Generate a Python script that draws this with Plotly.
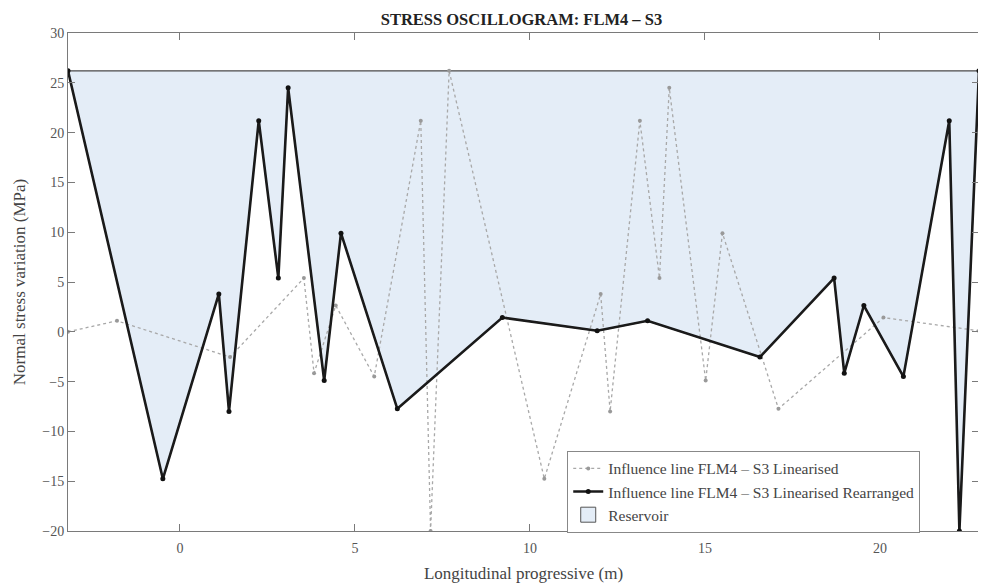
import plotly.graph_objects as go

# Linearised influence line (grey dotted)
lin_x = [-3.2, -1.8, 1.43, 3.54, 3.83, 4.45, 5.55, 6.88, 7.16, 7.69, 10.41,
         12.02, 12.29, 13.14, 13.7, 13.98, 15.02, 15.5, 17.1, 20.1, 22.83]
lin_y = [0.0, 1.1, -2.54, 5.39, -4.15, 2.64, -4.5, 21.2, -20.0, 26.2, -14.76,
         3.8, -8.0, 21.2, 5.39, 24.5, -4.9, 9.9, -7.73, 1.43, 0.1]

# Linearised rearranged influence line (black)
rea_x = [-3.2, -0.49, 1.11, 1.4, 2.25, 2.81, 3.09, 4.12, 4.6, 6.21, 9.21,
         11.92, 13.36, 16.57, 18.69, 18.98, 19.54, 20.67, 21.98, 22.27, 22.83]
rea_y = [26.2, -14.76, 3.8, -8.0, 21.2, 5.39, 24.5, -4.9, 9.9, -7.73, 1.43,
         0.1, 1.1, -2.54, 5.39, -4.15, 2.64, -4.5, 21.2, -20.0, 26.2]

reservoir_level = 26.2

x_ticks = [0, 5, 10, 15, 20]
y_ticks = [-20, -15, -10, -5, 0, 5, 10, 15, 20, 25, 30]

FONT = "Liberation Serif"
FILL = "#e4edf7"

fig = go.Figure()

# Reservoir region: polygon between the rearranged line and the reservoir level
res_x = rea_x + rea_x[::-1]
res_y = rea_y + [reservoir_level] * len(rea_x)
fig.add_trace(go.Scatter(
    x=res_x, y=res_y, mode="lines", fill="toself",
    fillcolor=FILL, line=dict(color="#4a4a4a", width=1.2),
    showlegend=False, hoverinfo="skip"))

fig.add_trace(go.Scatter(
    x=lin_x, y=lin_y, mode="lines+markers",
    line=dict(color="#a8a8a8", width=1.3, dash="dot"),
    marker=dict(color="#999999", size=4, symbol="circle"),
    name="Influence line FLM4 – S3 Linearised", legendrank=1))

fig.add_trace(go.Scatter(
    x=rea_x, y=rea_y, mode="lines+markers",
    line=dict(color="#1a1a1a", width=2.6),
    marker=dict(color="#111111", size=5),
    name="Influence line FLM4 – S3 Linearised Rearranged", legendrank=2))

# Legend entry for the reservoir patch
fig.add_trace(go.Scatter(
    x=[None], y=[None], mode="markers",
    marker=dict(symbol="square", size=15, color=FILL,
                line=dict(color="#555555", width=1)),
    name="Reservoir", legendrank=3))

axis_common = dict(
    showgrid=False, zeroline=False, showline=True, mirror="allticks",
    linecolor="#7a7a7a", linewidth=1, ticks="inside", ticklen=7,
    tickcolor="#7a7a7a", tickfont=dict(family=FONT, size=14, color="#555555"),
)

fig.update_layout(
    width=978, height=578,
    margin=dict(l=60, r=7, t=25, b=55),
    paper_bgcolor="white", plot_bgcolor="white",
    font=dict(family=FONT, color="#444444"),
    title=dict(text="<b>STRESS OSCILLOGRAM: FLM4 – S3</b>",
               x=0.525, xanchor="center", y=0.981, yanchor="middle",
               font=dict(family=FONT, size=16.5, color="#222222")),
    xaxis=dict(range=[-3.2, 22.83], tickvals=x_ticks, ticklabelstandoff=4,
               title=dict(text="Longitudinal progressive (m)",
                          font=dict(family=FONT, size=17, color="#444444"),
                          standoff=12),
               **axis_common),
    yaxis=dict(range=[-20, 30], tickvals=y_ticks,
               title=dict(text="Normal stress variation (MPa)",
                          font=dict(family=FONT, size=17, color="#444444"),
                          standoff=12),
               **axis_common),
    legend=dict(x=0.548, y=0.161, xanchor="left", yanchor="top",
                bgcolor="white", bordercolor="#888888", borderwidth=1,
                font=dict(family=FONT, size=15.5, color="#444444"),
                traceorder="normal", tracegroupgap=0, itemwidth=30),
    showlegend=True,
)

fig.write_html("out.html")
